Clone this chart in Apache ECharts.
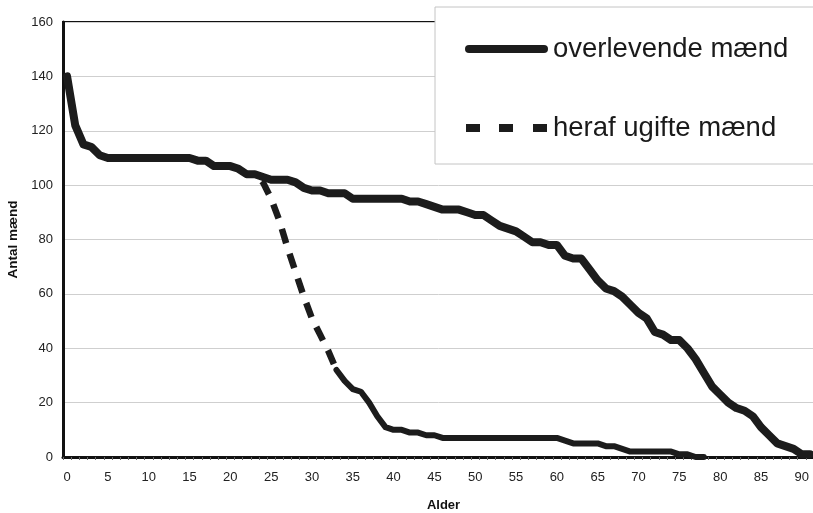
<!DOCTYPE html>
<html>
<head>
<meta charset="utf-8">
<script src="https://cdn.jsdelivr.net/npm/echarts@6/dist/echarts.min.js"></script>
<style>
  html, body { margin: 0; padding: 0; background: #fff; }
  #chart { width: 813px; height: 513px; }
</style>
</head>
<body>
<div id="chart"></div>
<script>
// Ages 0..91 (categories)
var ages = [];
for (var a = 0; a <= 91; a++) ages.push(String(a));

// Surviving men per age
var survivors = [140,122,115,114,111,110,110,110,110,110,
                 110,110,110,110,110,110,109,109,107,107,
                 107,106,104,104,103,102,102,102,101,99,
                 98,98,97,97,97,95,95,95,95,95,
                 95,95,94,94,93,92,91,91,91,90,
                 89,89,87,85,84,83,81,79,79,78,
                 78,74,73,73,69,65,62,61,59,56,
                 53,51,46,45,43,43,40,36,31,26,
                 23,20,18,17,15,11,8,5,4,3,
                 1,1];

// Of which unmarried men per age
var unmarried = [140,122,115,114,111,110,110,110,110,110,
                 110,110,110,110,110,110,109,109,107,107,
                 107,106,104,104,101,95,87,77,68,59,
                 51,45,39,32,28,25,24,20,15,11,
                 10,10,9,9,8,8,7,7,7,7,
                 7,7,7,7,7,7,7,7,7,7,
                 7,6,5,5,5,5,4,4,3,2,
                 2,2,2,2,2,1,1,0,0,null,
                 null,null,null,null,null,null,null,null,null,null,
                 null,null];

var seriesNames = ['overlevende mænd', 'heraf ugifte mænd'];
var yTicks = {min: 0, max: 160, step: 20};
var splitAge = 33;

// split the unmarried curve: steep (dashed) part and flat part
var unmarriedSteep = unmarried.map(function (v, i) { return i <= splitAge ? v : null; });
var unmarriedFlat = unmarried.map(function (v, i) { return i >= splitAge ? v : null; });

var FONT = 'Liberation Sans, Arial, sans-serif';
var INK = '#1c1c1c';

var solidIcon = 'path://M4,0 H79 A4,4 0 0 1 79,8 H4 A4,4 0 0 1 4,0 Z';
var dashIcon = 'path://M0,0 H14 V8 H0 Z M33,0 H47 V8 H33 Z M67,0 H81 V8 H67 Z';

var chart = echarts.init(document.getElementById('chart'), null, {renderer: 'canvas'});
chart.setOption({
  animation: false,
  backgroundColor: '#fff',
  textStyle: {fontFamily: FONT},
  grid: {
    left: 63, right: -1, top: 22, bottom: 56,
    containLabel: false,
    outerBoundsMode: 'none',
    show: true, borderColor: '#111', borderWidth: 2, backgroundColor: 'transparent'
  },
  legend: {
    data: [
      {name: seriesNames[0], icon: solidIcon},
      {name: seriesNames[1], icon: dashIcon}
    ],
    orient: 'vertical',
    left: 435, top: 7,
    padding: [28, 90, 22, 30],
    itemGap: 51,
    itemWidth: 83,
    itemHeight: 8,
    backgroundColor: '#fff',
    borderColor: '#c4c4c4',
    borderWidth: 1,
    borderRadius: 0,
    textStyle: {fontFamily: FONT, fontSize: 27.5, color: '#1a1a1a', padding: [0, 0, 0, 0]},
    z: 10
  },
  xAxis: {
    type: 'category',
    data: ages,
    boundaryGap: true,
    name: 'Alder',
    nameLocation: 'middle',
    nameGap: 42,
    nameTextStyle: {fontFamily: FONT, fontSize: 13, fontWeight: 'bold', color: '#111', padding: [0, 0, 0, 10]},
    axisLine: {show: true, lineStyle: {color: '#111', width: 3}},
    axisTick: {show: true, interval: 0, length: 3, lineStyle: {color: '#666', width: 1}},
    axisLabel: {interval: 4, fontFamily: FONT, fontSize: 13, color: '#222', margin: 14},
    splitLine: {show: false}
  },
  yAxis: {
    type: 'value',
    min: yTicks.min, max: yTicks.max, interval: yTicks.step,
    name: 'Antal mænd',
    nameLocation: 'middle',
    nameGap: 43,
    nameTextStyle: {fontFamily: FONT, fontSize: 13.5, fontWeight: 'bold', color: '#111'},
    axisLine: {show: true, lineStyle: {color: '#111', width: 3}},
    axisTick: {show: false},
    axisLabel: {fontFamily: FONT, fontSize: 13, color: '#222', margin: 10},
    splitLine: {show: true, lineStyle: {color: '#cfcfcf', width: 1}}
  },
  series: [
    {
      name: seriesNames[1],
      type: 'line',
      data: unmarriedSteep,
      symbol: 'none',
      smooth: false,
      connectNulls: false,
      lineStyle: {color: INK, width: 6.5, type: [15, 11], cap: 'butt'},
      itemStyle: {color: INK},
      z: 2
    },
    {
      name: 'flat',
      type: 'line',
      data: unmarriedFlat,
      symbol: 'none',
      connectNulls: false,
      lineStyle: {color: INK, width: 6, cap: 'round', join: 'round'},
      itemStyle: {color: INK},
      z: 2
    },
    {
      name: seriesNames[0],
      type: 'line',
      data: survivors,
      symbol: 'none',
      lineStyle: {color: INK, width: 8, cap: 'round', join: 'round'},
      itemStyle: {color: INK},
      z: 3
    }
  ]
});
</script>
</body>
</html>
